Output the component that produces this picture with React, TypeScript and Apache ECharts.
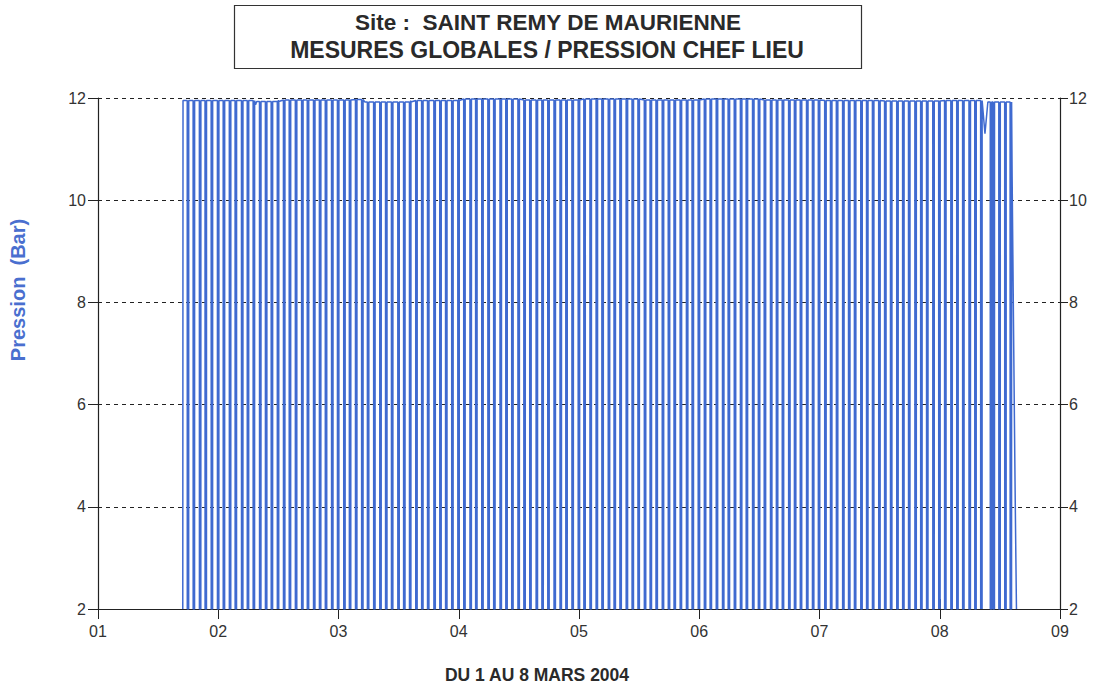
import React, { useEffect, useRef } from "react";
import * as echarts from "echarts";

// ---- Data ----
const xTickLabels = ["01", "02", "03", "04", "05", "06", "07", "08", "09"];
const yTicks = [2, 4, 6, 8, 10, 12];

// plateau pressure level (bar) by start day
const plateauStart = [1.70, 2.30, 2.50, 3.10, 3.22, 3.60, 4.00, 4.50, 5.00, 5.50, 6.00, 6.50, 7.00, 7.50, 8.00, 8.42];
const plateauLevel = [11.95, 11.93, 11.96, 11.97, 11.92, 11.95, 11.98, 11.96, 11.98, 11.96, 11.98, 11.96, 11.95, 11.94, 11.95, 11.92];

// times (day of month) of the periodic pressure drops
const dropTimes = [
  1.742, 1.791, 1.843, 1.890, 1.941, 1.993,
  2.041, 2.092, 2.140, 2.193, 2.241, 2.290, 2.343, 2.392, 2.440, 2.491, 2.542, 2.590, 2.641, 2.693, 2.740, 2.792, 2.841, 2.890, 2.942, 2.991,
  3.043, 3.090, 3.141, 3.192, 3.240, 3.292, 3.343, 3.391, 3.440, 3.493, 3.541, 3.590, 3.642, 3.691, 3.740, 3.793, 3.842, 3.890, 3.941, 3.992,
  4.041, 4.093, 4.140, 4.191, 4.242, 4.290, 4.343, 4.391, 4.440, 4.492, 4.541, 4.590, 4.643, 4.691, 4.740, 4.792, 4.842, 4.890, 4.941, 4.993,
  5.040, 5.091, 5.142, 5.190, 5.243, 5.291, 5.340, 5.392, 5.441, 5.490, 5.543, 5.591, 5.640, 5.692, 5.742, 5.790, 5.841, 5.893, 5.940, 5.991,
  6.042, 6.090, 6.141, 6.193, 6.240, 6.291, 6.342, 6.390, 6.443, 6.491, 6.540, 6.592, 6.641, 6.690, 6.743, 6.791, 6.840, 6.892, 6.941, 6.990,
  7.043, 7.091, 7.140, 7.192, 7.241, 7.290, 7.343, 7.391, 7.440, 7.492, 7.541, 7.590, 7.642, 7.691, 7.740, 7.793, 7.841, 7.890, 7.942, 7.991,
  8.040, 8.092, 8.141, 8.190, 8.243, 8.291, 8.340, 8.420, 8.443, 8.491, 8.540, 8.585,
];
const dropLow = 2;
const dropWidth = 0.012;

// short events on the plateau: [day, value]
const dipPoints: [number, number][] = [
  [2.300, 11.93], [2.310, 11.87], [2.320, 11.93],
  [8.350, 11.93], [8.376, 11.30], [8.400, 11.92],
];
// start and end of recording
const startPoints: [number, number][] = [[1.705, 2], [1.707, 11.95]];
const endPoints: [number, number][] = [[8.598, 11.92], [8.602, 10.45], [8.614, 7.4], [8.626, 4.5], [8.633, 3.0], [8.638, 2]];

function levelAt(t: number): number {
  let v = plateauLevel[0];
  for (let i = 0; i < plateauStart.length; i++) if (t >= plateauStart[i]) v = plateauLevel[i];
  return v;
}

function buildSeries(): [number, number][] {
  const pts: [number, number][] = [...startPoints];
  const events: [number, number][] = [];
  plateauStart.forEach((s, i) => { if (i > 0) events.push([s, plateauLevel[i]]); });
  dropTimes.forEach((t) => {
    const lv = levelAt(t);
    events.push([t, lv], [t + 0.0005, dropLow], [t + dropWidth, dropLow], [t + dropWidth + 0.0005, lv]);
  });
  dipPoints.forEach((p) => events.push(p));
  events.sort((a, b) => a[0] - b[0]);
  pts.push(...events, ...endPoints);
  return pts;
}

const AXIS_FONT = "Liberation Sans, Arial, sans-serif";

export default function App() {
  const ref = useRef<HTMLDivElement>(null);
  useEffect(() => {
    if (!ref.current) return;
    const chart = echarts.init(ref.current, undefined, { renderer: "svg" });
    const axisLabel = { color: "#333", fontSize: 16, fontFamily: AXIS_FONT };
    chart.setOption({
      animation: false,
      backgroundColor: "#fff",
      grid: { left: 98, right: 42, top: 98, bottom: 78, containLabel: false },
      graphic: [
        { type: "rect", shape: { x: 234.5, y: 5.5, width: 627, height: 63 }, style: { fill: "none", stroke: "#333", lineWidth: 1.2 } },
        { type: "text", x: 548, y: 22, style: { text: "Site :  SAINT REMY DE MAURIENNE", font: "bold 22.5px Liberation Sans, Arial, sans-serif", fill: "#2a2a2a", textAlign: "center", textVerticalAlign: "middle" } },
        { type: "text", x: 547, y: 50, style: { text: "MESURES GLOBALES / PRESSION CHEF LIEU", font: "bold 23px Liberation Sans, Arial, sans-serif", fill: "#2a2a2a", textAlign: "center", textVerticalAlign: "middle" } },
        { type: "text", x: 18, y: 290, rotation: Math.PI / 2, style: { text: "Pression  (Bar)", font: "bold 20px Liberation Sans, Arial, sans-serif", fill: "#4a6fcf", textAlign: "center", textVerticalAlign: "middle" } },
        { type: "text", x: 537, y: 675, style: { text: "DU 1 AU 8 MARS 2004", font: "bold 17.5px Liberation Sans, Arial, sans-serif", fill: "#2a2a2a", textAlign: "center", textVerticalAlign: "middle" } },
      ],
      xAxis: [
        {
          type: "value", min: 1, max: 9, interval: 1, position: "bottom",
          axisLine: { show: true, lineStyle: { color: "#222", width: 1.2 } },
          axisTick: { show: true, inside: false, length: 10, lineStyle: { color: "#222" } },
          axisLabel: { ...axisLabel, margin: 14, formatter: (v: number) => xTickLabels[Math.round(v) - 1] ?? "" },
          splitLine: { show: false },
        },
        {
          type: "value", min: 1, max: 9, interval: 1, position: "bottom",
          axisLine: { show: false },
          axisTick: { show: true, inside: true, length: 10, lineStyle: { color: "#222" } },
          axisLabel: { show: false },
          splitLine: { show: false },
        },
      ],
      yAxis: [
        {
          type: "value", min: 2, max: 12, interval: 2, position: "left",
          axisLine: { show: true, lineStyle: { color: "#222", width: 1.2 } },
          axisTick: { show: true, inside: false, length: 10, lineStyle: { color: "#222" } },
          axisLabel: { ...axisLabel, margin: 12, formatter: (v: number) => (yTicks.includes(v) ? String(v) : "") },
          splitLine: { show: true, lineStyle: { color: "#222", type: [4, 4], width: 1 } },
        },
        {
          type: "value", min: 2, max: 12, interval: 2, position: "right",
          axisLine: { show: true, lineStyle: { color: "#222", width: 1.2 } },
          axisTick: { show: true, inside: false, length: 8, lineStyle: { color: "#222" } },
          axisLabel: { ...axisLabel, margin: 9 },
          splitLine: { show: false },
        },
      ],
      series: [
        {
          type: "line",
          xAxisIndex: 0,
          yAxisIndex: 0,
          data: buildSeries(),
          showSymbol: false,
          symbol: "none",
          lineStyle: { color: "#3f6ad0", width: 1.5 },
          clip: true,
        },
      ],
    });
    return () => chart.dispose();
  }, []);
  return <div ref={ref} style={{ position: "fixed", left: 0, top: 0, width: 1102, height: 687 }} />;
}
